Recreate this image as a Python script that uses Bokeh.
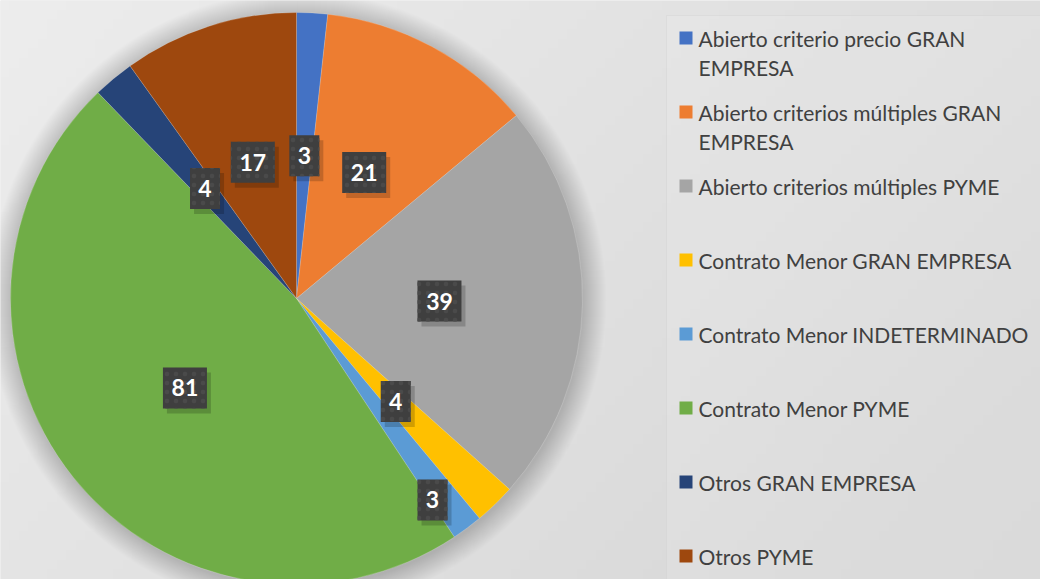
import numpy as np
from bokeh.plotting import figure
from bokeh.models import Range1d, ColumnDataSource
from bokeh.core.properties import value
from bokeh.embed import file_html
from bokeh.resources import INLINE

# ---------------- data ----------------
categories = [
    "Abierto criterio precio GRAN EMPRESA",
    "Abierto criterios múltiples GRAN EMPRESA",
    "Abierto criterios múltiples PYME",
    "Contrato Menor GRAN EMPRESA",
    "Contrato Menor INDETERMINADO",
    "Contrato Menor PYME",
    "Otros GRAN EMPRESA",
    "Otros PYME",
]
values = [3, 21, 39, 4, 3, 81, 4, 17]
colors = ["#4472C4", "#ED7D31", "#A5A5A5", "#FFC000",
          "#5B9BD5", "#70AD47", "#264478", "#9E480E"]

# legend wrapping (first line / second line)
legend_line1 = ["Abierto criterio precio GRAN", "Abierto criterios múltiples GRAN",
                "Abierto criterios múltiples PYME", "Contrato Menor GRAN EMPRESA",
                "Contrato Menor INDETERMINADO", "Contrato Menor PYME",
                "Otros GRAN EMPRESA", "Otros PYME"]
legend_line2 = ["EMPRESA", "EMPRESA", "", "", "", "", "", ""]

# ---------------- layout ----------------
W, H = 1040, 579
p = figure(width=W, height=H, x_range=Range1d(0, W), y_range=Range1d(-H, 0),
           output_backend="svg", toolbar_location=None, min_border=0)
p.axis.visible = False
p.grid.visible = False
p.outline_line_color = None
p.background_fill_color = "#e3e3e3"
p.border_fill_color = "#e3e3e3"

# background gradient
gh, gw = 60, 110
yy, xx = np.mgrid[0:gh, 0:gw]
t = 0.65 * xx / (gw - 1) + 0.35 * yy / (gh - 1)
lv = (237 - 24 * t).astype(np.uint32)
img = (255 << 24) | (lv << 16) | (lv << 8) | lv
img = img[::-1].astype(np.uint32)
p.image_rgba(image=[img], x=0, y=-H, dw=W, dh=H)

# legend panel
p.quad(left=666, right=1045, top=-15, bottom=-590, fill_color="#ffffff",
       fill_alpha=0.12, line_color="#cfcfcf", line_alpha=0.35)

# pie
cx, cy, R = 296, -298, 286
for k in range(1, 24):
    p.circle(x=cx + 1, y=cy - 2, radius=R + k, fill_color="#000000",
             fill_alpha=0.009, line_color=None)

vals = np.array(values, dtype=float)
total = vals.sum()
cum = np.concatenate([[0], np.cumsum(vals)])
start = np.pi / 2 - 2 * np.pi * cum[:-1] / total
end = np.pi / 2 - 2 * np.pi * cum[1:] / total
src = ColumnDataSource(dict(start=start, end=end, color=colors, cat=categories, val=values))
p.wedge(x=cx, y=cy, radius=R, start_angle="start", end_angle="end",
        direction="clock", fill_color="color", line_color="#ffffff",
        line_alpha=0.3, line_width=0.6, source=src)

# data labels
mid = (start + end) / 2
lr = np.full(len(values), 0.5)
lr[4] = 0.85
ang_adj = np.zeros(len(values))
ang_adj[4] = -np.deg2rad(2.6)
lx = cx + R * lr * np.cos(mid + ang_adj)
ly = cy + R * lr * np.sin(mid + ang_adj)
txt = [str(v) for v in values]
bw = [30 if len(s) == 1 else 44 for s in txt]
lsrc = ColumnDataSource(dict(x=lx, y=ly, sx=lx + 4, sy=ly - 5, w=bw, t=txt))
p.rect(x="sx", y="sy", width="w", height=41, fill_color="#000000", fill_alpha=0.18,
       line_color=None, source=lsrc)
p.rect(x="x", y="y", width="w", height=41, fill_color="#3f3f3f", line_color=None,
       hatch_pattern="dot", hatch_color="#4a4a4a", hatch_scale=9, hatch_weight=2,
       source=lsrc)
p.text(x="x", y="y", text="t", text_color="#ffffff", text_font=value("Lato"),
       text_font_style="bold", text_font_size="23px", text_align="center",
       text_baseline="middle", source=lsrc)

# legend
n = len(categories)
ly0 = -(37.5 + 74 * np.arange(n))
gsrc = ColumnDataSource(dict(x=np.full(n, 685.5), y=ly0, color=colors,
                             l1=legend_line1, l2=legend_line2,
                             tx=np.full(n, 698.0), y2=ly0 - 29))
p.rect(x="x", y="y", width=13, height=13, fill_color="color", line_color=None, source=gsrc)
p.text(x="tx", y="y", text="l1", text_color="#404040", text_font=value("Lato"),
       text_font_size="21px", text_baseline="middle", source=gsrc)
p.text(x="tx", y="y2", text="l2", text_color="#404040", text_font=value("Lato"),
       text_font_size="21px", text_baseline="middle", source=gsrc)

open("out.html", "w").write(file_html(p, INLINE))
